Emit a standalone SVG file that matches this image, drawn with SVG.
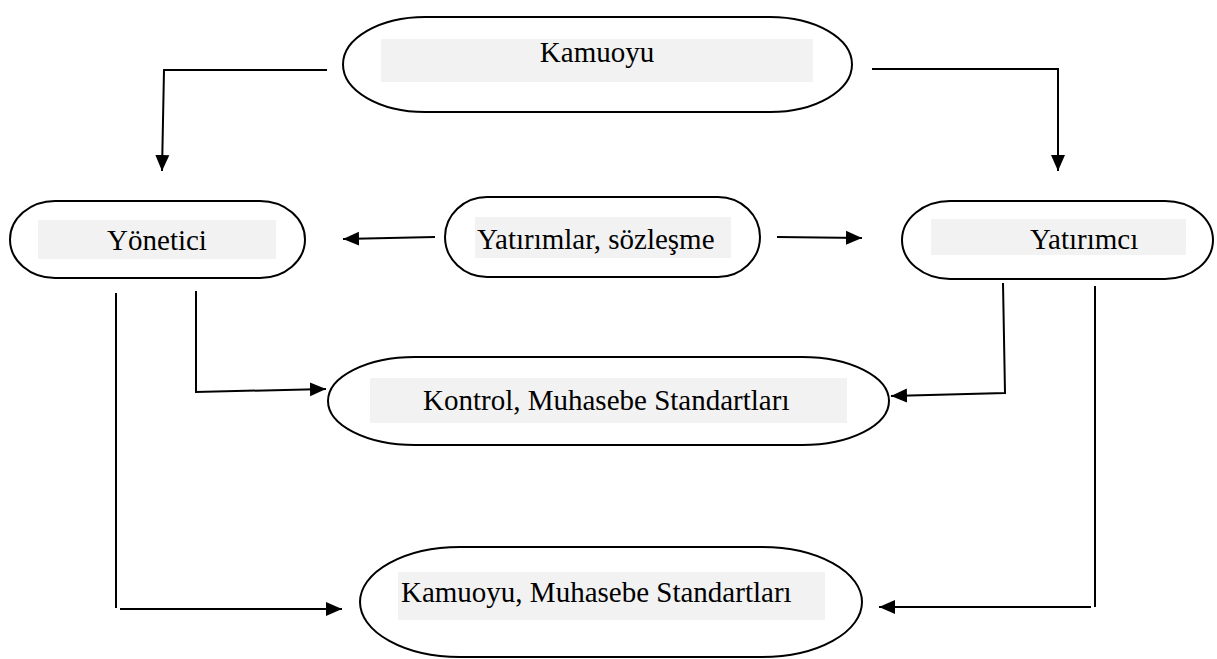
<svg xmlns="http://www.w3.org/2000/svg" width="1217" height="659" viewBox="0 0 1217 659">
<style>
.node{fill:#ffffff;stroke:#000;stroke-width:2}
.hl{fill:#f2f2f2;stroke:none}
.lbl{font-family:"Liberation Serif","Times New Roman",serif;font-size:29px;fill:#000}
.conn{fill:none;stroke:#000;stroke-width:2}
</style>
<defs>
<marker id="ah" markerUnits="userSpaceOnUse" markerWidth="16" markerHeight="16" viewBox="0 0 16 16" refX="16" refY="8" orient="auto">
<path d="M0,1 L16,8 L0,15 Z" fill="#000"/>
</marker>
</defs>
<rect width="1217" height="659" fill="#fff"/>
<g id="connectors">
<polyline class="conn" points="327,70 164,70 162,171" marker-end="url(#ah)"/>
<polyline class="conn" points="872,69 1058,69 1058,171" marker-end="url(#ah)"/>
<line class="conn" x1="435" y1="237" x2="343" y2="239" marker-end="url(#ah)"/>
<line class="conn" x1="777" y1="237" x2="862" y2="238" marker-end="url(#ah)"/>
<polyline class="conn" points="196,291 196,392 326,389" marker-end="url(#ah)"/>
<polyline class="conn" points="1003,283 1005,393 891,396" marker-end="url(#ah)"/>
<line class="conn" x1="116" y1="293" x2="116" y2="608"/>
<line class="conn" x1="120" y1="609" x2="342" y2="609" marker-end="url(#ah)"/>
<line class="conn" x1="1095" y1="286" x2="1095" y2="607"/>
<line class="conn" x1="1091" y1="607" x2="879" y2="607" marker-end="url(#ah)"/>
</g>
<g id="kamuoyu">
<rect class="node" x="343" y="17" width="509" height="95" rx="82" ry="47.5"/>
<rect class="hl" x="381" y="39" width="432" height="43"/>
<text class="lbl" x="597" y="62" text-anchor="middle">Kamuoyu</text>
</g>
<g id="yonetici">
<rect class="node" x="10" y="201" width="295" height="77" rx="45" ry="38.5"/>
<rect class="hl" x="38" y="220" width="238" height="39"/>
<text class="lbl" x="157" y="250" text-anchor="middle">Yönetici</text>
</g>
<g id="yatirimlar">
<rect class="node" x="445" y="197" width="315" height="80" rx="42" ry="40"/>
<rect class="hl" x="475" y="217" width="256" height="41"/>
<text class="lbl" x="477" y="249">Yatırımlar, sözleşme</text>
</g>
<g id="yatirimci">
<rect class="node" x="902" y="201" width="311" height="78" rx="48" ry="39"/>
<rect class="hl" x="931" y="219" width="255" height="36"/>
<text class="lbl" x="1030" y="249">Yatırımcı</text>
</g>
<g id="kontrol">
<rect class="node" x="328" y="357" width="561" height="88" rx="87" ry="44"/>
<rect class="hl" x="370" y="378" width="477" height="45"/>
<text class="lbl" x="423" y="410">Kontrol, Muhasebe Standartları</text>
</g>
<g id="kamuoyu-muhasebe">
<rect class="node" x="360" y="547" width="502" height="110" rx="100" ry="55"/>
<rect class="hl" x="398" y="572" width="427" height="48"/>
<text class="lbl" x="401" y="602">Kamuoyu, Muhasebe Standartları</text>
</g>
</svg>
